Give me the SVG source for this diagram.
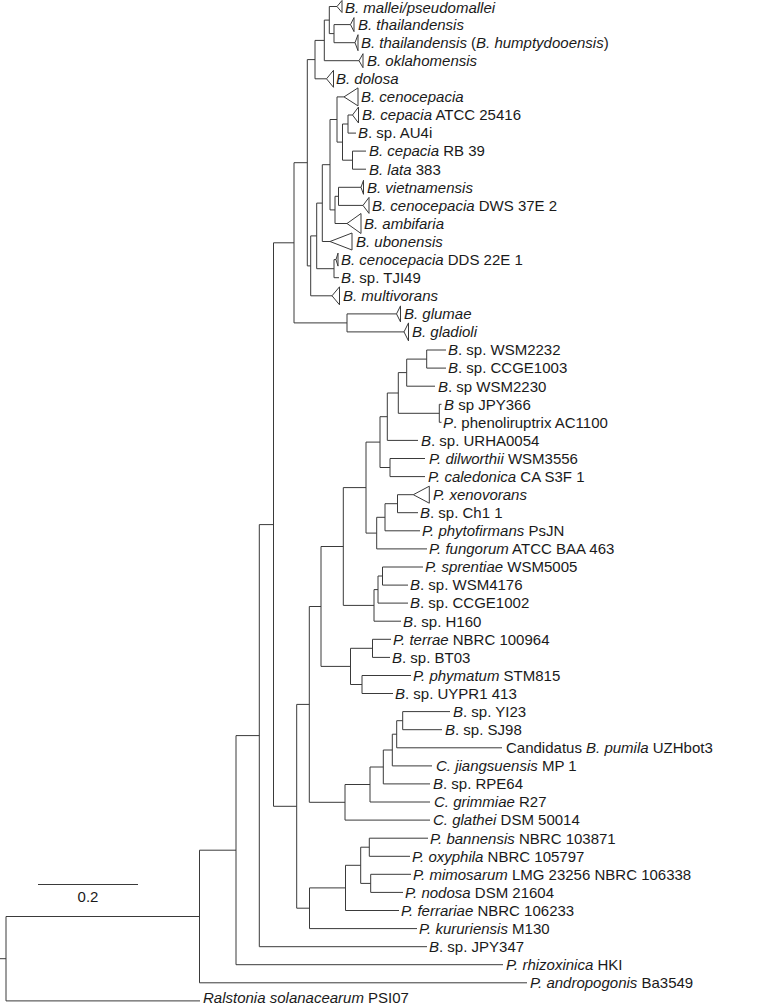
<svg xmlns="http://www.w3.org/2000/svg" width="759" height="1006" viewBox="0 0 759 1006">
<style>
text{font-family:"Liberation Sans",Arial,sans-serif;font-size:15px;fill:#1a1a1a}
.i{font-style:italic}
#branches path,#scale line{fill:none;stroke:#3a3a3a;stroke-width:1}
polygon{fill:#fff;stroke:#3a3a3a;stroke-width:1}
</style>
<rect width="759" height="1006" fill="#fff"/>
<g id="branches">
<path d="M0 958.7H6"/>
<path d="M199.5 916.5H6V1000.9H200"/>
<path d="M236 850.2H199.5V982.8H527"/>
<path d="M259.3 735.6H236V964.7H503"/>
<path d="M273.5 524.6H259.3V946.7H427"/>
<path d="M294 242.8H273.5V806.3H296.7"/>
<path d="M307.3 162.7H294V322.9H347"/>
<path d="M315 59.6H307.3V265.9H310.7"/>
<path d="M324.3 40.4H315V78.8H326.5"/>
<path d="M329.3 20.1H324.3V60.7H359"/>
<path d="M337 6.5H329.3V33.6H334"/>
<path d="M350.5 24.6H334V42.7H355"/>
<path d="M316.7 235.9H310.7V295.8H332"/>
<path d="M322.3 203.1H316.7V268.7H334"/>
<path d="M330 164.7H322.3V241.5H330"/>
<path d="M337 119.5H330V209.9H335"/>
<path d="M344 96.9H337V142.1H342.5"/>
<path d="M348 124H342.5V160.2H352.5"/>
<path d="M352.5 115H348V133.1H356"/>
<path d="M366 151.1H352.5V169.2H366"/>
<path d="M338.5 196.3H335V223.5H347"/>
<path d="M361 187.3H338.5V205.4H363"/>
<path d="M336 259.6H334V277.7H339"/>
<path d="M396.5 313.9H347V331.9H404"/>
<path d="M309.3 704.4H296.7V908.2H309.5"/>
<path d="M321 606.5H309.3V802.3H345"/>
<path d="M343.3 546.5H321V666.4H350.5"/>
<path d="M366 487.6H343.3V605.4H374"/>
<path d="M380 442.1H366V533.1H376.7"/>
<path d="M387.3 416.7H380V467.5H390"/>
<path d="M398.3 393H387.3V440.4H418"/>
<path d="M406.7 372.6H398.3V413.3H439.3"/>
<path d="M426.7 359.1H406.7V386.2H435"/>
<path d="M446 350H426.7V368.1H446"/>
<path d="M441.5 404.3H439.3V422.3H441.5"/>
<path d="M425 458.5H390V476.6H425"/>
<path d="M385 517.3H376.7V548.9H427"/>
<path d="M397.5 503.7H385V530.8H420"/>
<path d="M413.3 494.7H397.5V512.7H418"/>
<path d="M378 589.6H374V621.2H401"/>
<path d="M382.5 576H378V603.1H408"/>
<path d="M423 567H382.5V585.1H408"/>
<path d="M372.5 648.3H350.5V684.5H362"/>
<path d="M391 639.3H372.5V657.4H390"/>
<path d="M411 675.5H362V693.5H393"/>
<path d="M370 784.5H345V820.1H430"/>
<path d="M383.3 767H370V802H430"/>
<path d="M392.3 750H383.3V783.9H430"/>
<path d="M396.7 734.2H392.3V765.9H432"/>
<path d="M402.7 720.7H396.7V747.8H502"/>
<path d="M450 711.6H402.7V729.7H442"/>
<path d="M345.5 887.9H309.5V928.6H417"/>
<path d="M360.7 865.3H345.5V910.5H399"/>
<path d="M369.3 847.2H360.7V883.4H370.7"/>
<path d="M428 838.2H369.3V856.3H410"/>
<path d="M411 874.3H370.7V892.4H403"/>
</g>
<g id="scale">
<line x1="38" y1="884.5" x2="138" y2="884.5"/>
<text x="88" y="902" text-anchor="middle">0.2</text>
</g>
<g id="t01"><polygon points="337,6.5 342,0.5 342,12.5"/><text x="345" y="12.5" class="i">B. mallei/pseudomallei</text></g>
<g id="t02"><polygon points="350.5,24.6 354,17.6 354,31.6"/><text x="358" y="29.9" class="i">B. thailandensis</text></g>
<g id="t03"><polygon points="355,42.7 358,34.7 358,50.7"/><text x="361" y="48"><tspan class="i">B. thailandensis</tspan> (<tspan class="i">B. humptydooensis</tspan>)</text></g>
<g id="t04"><polygon points="359,60.7 363,53.7 363,67.7"/><text x="367" y="66" class="i">B. oklahomensis</text></g>
<g id="t05"><polygon points="326.5,78.8 333.5,70.3 333.5,87.3"/><text x="336" y="84.1" class="i">B. dolosa</text></g>
<g id="t06"><polygon points="344,96.9 358,87.9 358,105.9"/><text x="361" y="102.2" class="i">B. cenocepacia</text></g>
<g id="t07"><polygon points="352.5,115 358.5,107 358.5,123"/><text x="362" y="120.3"><tspan class="i">B. cepacia</tspan> ATCC 25416</text></g>
<g id="t08"><text x="358" y="138.4"><tspan class="i">B</tspan>. sp. AU4i</text></g>
<g id="t09"><text x="369" y="156.4"><tspan class="i">B. cepacia</tspan> RB 39</text></g>
<g id="t10"><text x="369" y="174.5"><tspan class="i">B. lata</tspan> 383</text></g>
<g id="t11"><polygon points="361,187.3 363.5,180.3 363.5,194.3"/><text x="367" y="192.6" class="i">B. vietnamensis</text></g>
<g id="t12"><polygon points="363,205.4 369,197.4 369,213.4"/><text x="372" y="210.7"><tspan class="i">B. cenocepacia</tspan> DWS 37E 2</text></g>
<g id="t13"><polygon points="347,223.5 361,213.5 361,233.5"/><text x="364" y="228.8" class="i">B. ambifaria</text></g>
<g id="t14"><polygon points="330,241.5 352,233 352,250"/><text x="356" y="246.8" class="i">B. ubonensis</text></g>
<g id="t15"><polygon points="336,259.6 338,253.1 338,266.1"/><text x="341" y="264.9"><tspan class="i">B. cenocepacia</tspan> DDS 22E 1</text></g>
<g id="t16"><text x="341" y="283"><tspan class="i">B</tspan>. sp. TJI49</text></g>
<g id="t17"><polygon points="332,295.8 339.5,286.8 339.5,304.8"/><text x="343" y="301.1" class="i">B. multivorans</text></g>
<g id="t18"><polygon points="396.5,313.9 400.5,305.9 400.5,321.9"/><text x="404" y="319.2" class="i">B. glumae</text></g>
<g id="t19"><polygon points="404,331.9 408.5,322.9 408.5,340.9"/><text x="412" y="337.2" class="i">B. gladioli</text></g>
<g id="t20"><text x="448" y="355.3"><tspan class="i">B</tspan>. sp. WSM2232</text></g>
<g id="t21"><text x="448" y="373.4"><tspan class="i">B</tspan>. sp. CCGE1003</text></g>
<g id="t22"><text x="438" y="391.5"><tspan class="i">B</tspan>. sp WSM2230</text></g>
<g id="t23"><text x="444" y="409.6"><tspan class="i">B</tspan> sp JPY366</text></g>
<g id="t24"><text x="443" y="427.6"><tspan class="i">P</tspan>. phenoliruptrix AC1100</text></g>
<g id="t25"><text x="421" y="445.7"><tspan class="i">B</tspan>. sp. URHA0054</text></g>
<g id="t26"><text x="429" y="463.8"><tspan class="i">P. dilworthii</tspan> WSM3556</text></g>
<g id="t27"><text x="428" y="481.9"><tspan class="i">P. caledonica</tspan> CA S3F 1</text></g>
<g id="t28"><polygon points="413.3,494.7 429.3,486.2 429.3,503.2"/><text x="433" y="500" class="i">P. xenovorans</text></g>
<g id="t29"><text x="420" y="518"><tspan class="i">B</tspan>. sp. Ch1 1</text></g>
<g id="t30"><text x="422" y="536.1"><tspan class="i">P. phytofirmans</tspan> PsJN</text></g>
<g id="t31"><text x="429" y="554.2"><tspan class="i">P. fungorum</tspan> ATCC BAA 463</text></g>
<g id="t32"><text x="425" y="572.3"><tspan class="i">P. sprentiae</tspan> WSM5005</text></g>
<g id="t33"><text x="410" y="590.4"><tspan class="i">B</tspan>. sp. WSM4176</text></g>
<g id="t34"><text x="410" y="608.4"><tspan class="i">B</tspan>. sp. CCGE1002</text></g>
<g id="t35"><text x="403" y="626.5"><tspan class="i">B</tspan>. sp. H160</text></g>
<g id="t36"><text x="393" y="644.6"><tspan class="i">P. terrae</tspan> NBRC 100964</text></g>
<g id="t37"><text x="392" y="662.7"><tspan class="i">B</tspan>. sp. BT03</text></g>
<g id="t38"><text x="413" y="680.8"><tspan class="i">P. phymatum</tspan> STM815</text></g>
<g id="t39"><text x="395" y="698.8"><tspan class="i">B</tspan>. sp. UYPR1 413</text></g>
<g id="t40"><text x="453" y="716.9"><tspan class="i">B</tspan>. sp. YI23</text></g>
<g id="t41"><text x="445" y="735"><tspan class="i">B</tspan>. sp. SJ98</text></g>
<g id="t42"><text x="506" y="753.1">Candidatus <tspan class="i">B. pumila</tspan> UZHbot3</text></g>
<g id="t43"><text x="436" y="771.2"><tspan class="i">C. jiangsuensis</tspan> MP 1</text></g>
<g id="t44"><text x="433" y="789.2"><tspan class="i">B</tspan>. sp. RPE64</text></g>
<g id="t45"><text x="434" y="807.3"><tspan class="i">C. grimmiae</tspan> R27</text></g>
<g id="t46"><text x="433" y="825.4"><tspan class="i">C. glathei</tspan> DSM 50014</text></g>
<g id="t47"><text x="430" y="843.5"><tspan class="i">P. bannensis</tspan> NBRC 103871</text></g>
<g id="t48"><text x="412" y="861.6"><tspan class="i">P. oxyphila</tspan> NBRC 105797</text></g>
<g id="t49"><text x="413" y="879.6"><tspan class="i">P. mimosarum</tspan> LMG 23256 NBRC 106338</text></g>
<g id="t50"><text x="405" y="897.7"><tspan class="i">P. nodosa</tspan> DSM 21604</text></g>
<g id="t51"><text x="401" y="915.8"><tspan class="i">P. ferrariae</tspan> NBRC 106233</text></g>
<g id="t52"><text x="419" y="933.9"><tspan class="i">P. kururiensis</tspan> M130</text></g>
<g id="t53"><text x="429" y="952"><tspan class="i">B</tspan>. sp. JPY347</text></g>
<g id="t54"><text x="506" y="970"><tspan class="i">P. rhizoxinica</tspan> HKI</text></g>
<g id="t55"><text x="530" y="988.1"><tspan class="i">P. andropogonis</tspan> Ba3549</text></g>
<g id="t56"><text x="203" y="1002.5"><tspan class="i">Ralstonia solanacearum</tspan> PSI07</text></g>
</svg>
